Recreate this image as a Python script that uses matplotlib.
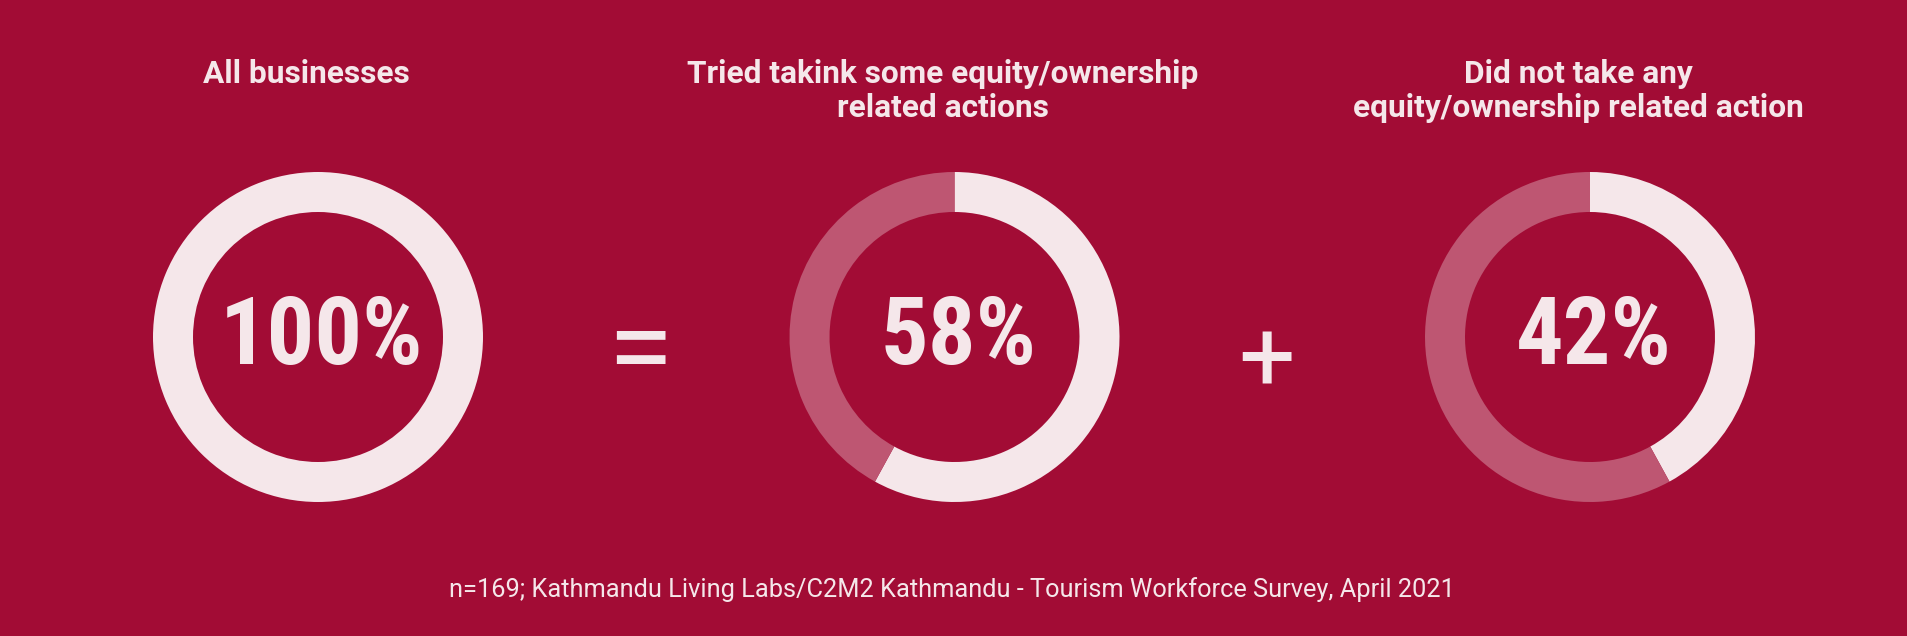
import matplotlib
matplotlib.use("Agg")
import matplotlib.pyplot as plt
from matplotlib import font_manager

# ---- data ----
titles = ["All businesses",
          "Tried takink some equity/ownership\nrelated actions",
          "Did not take any\nequity/ownership related action"]
shares = [100, 58, 42]
labels = ["100%", "58%", "42%"]
operators = ["=", "+"]
footer = "n=169; Kathmandu Living Labs/C2M2 Kathmandu - Tourism Workforce Survey, April 2021"

BG = "#A20C35"
LIGHT = "#F5E7EA"
MID = "#BE5672"

W, H = 1908, 636
fig = plt.figure(figsize=(W / 100, H / 100), dpi=100, facecolor=BG)

names = {f.name for f in font_manager.fontManager.ttflist}
big_family = ["Roboto Condensed", "Roboto"] if "Roboto Condensed" in names else ["Roboto"]

def fx(x):
    return x / W

def fy(y):
    return 1 - y / H

centers_x = [318, 954.5, 1590]
cy = 337
R = 165
ring = 40

for cx, s, lab, title in zip(centers_x, shares, labels, titles):
    ax = fig.add_axes([fx(cx - R), fy(cy + R), 2 * R / W, 2 * R / H])
    ax.set_facecolor(BG)
    vals = [s, 100 - s] if s < 100 else [s]
    cols = [LIGHT, MID][:len(vals)]
    ax.pie(vals, colors=cols, startangle=90, counterclock=False, radius=1,
           wedgeprops=dict(width=ring / R, edgecolor="none", linewidth=0))
    ax.set_xlim(-1, 1)
    ax.set_ylim(-1, 1)
    ax.set_aspect("equal")
    ax.axis("off")
    fig.text(fx(cx + 4), fy(364), lab, ha="center", va="baseline", color=LIGHT,
             family=big_family, fontweight="bold", fontsize=68)
    for i, line in enumerate(title.split("\n")):
        fig.text(fx(cx - 12), fy(83 + 34 * i), line, ha="center", va="baseline",
                 color=LIGHT, family="Roboto", fontweight="bold", fontsize=22.8)

op_pos = [(639.5, 342.5), (1267, 353.5)]
op_sizes = [86, 72]
for op, (ox, oy), sz in zip(operators, op_pos, op_sizes):
    fig.text(fx(ox), fy(oy), op, ha="center", va="center_baseline", color=LIGHT,
             family="Roboto", fontsize=sz)

fig.text(fx(952), fy(597), footer, ha="center", va="baseline", color=LIGHT,
         family="Roboto", fontsize=18.3)

fig.savefig("out.png", dpi=100, facecolor=BG)
